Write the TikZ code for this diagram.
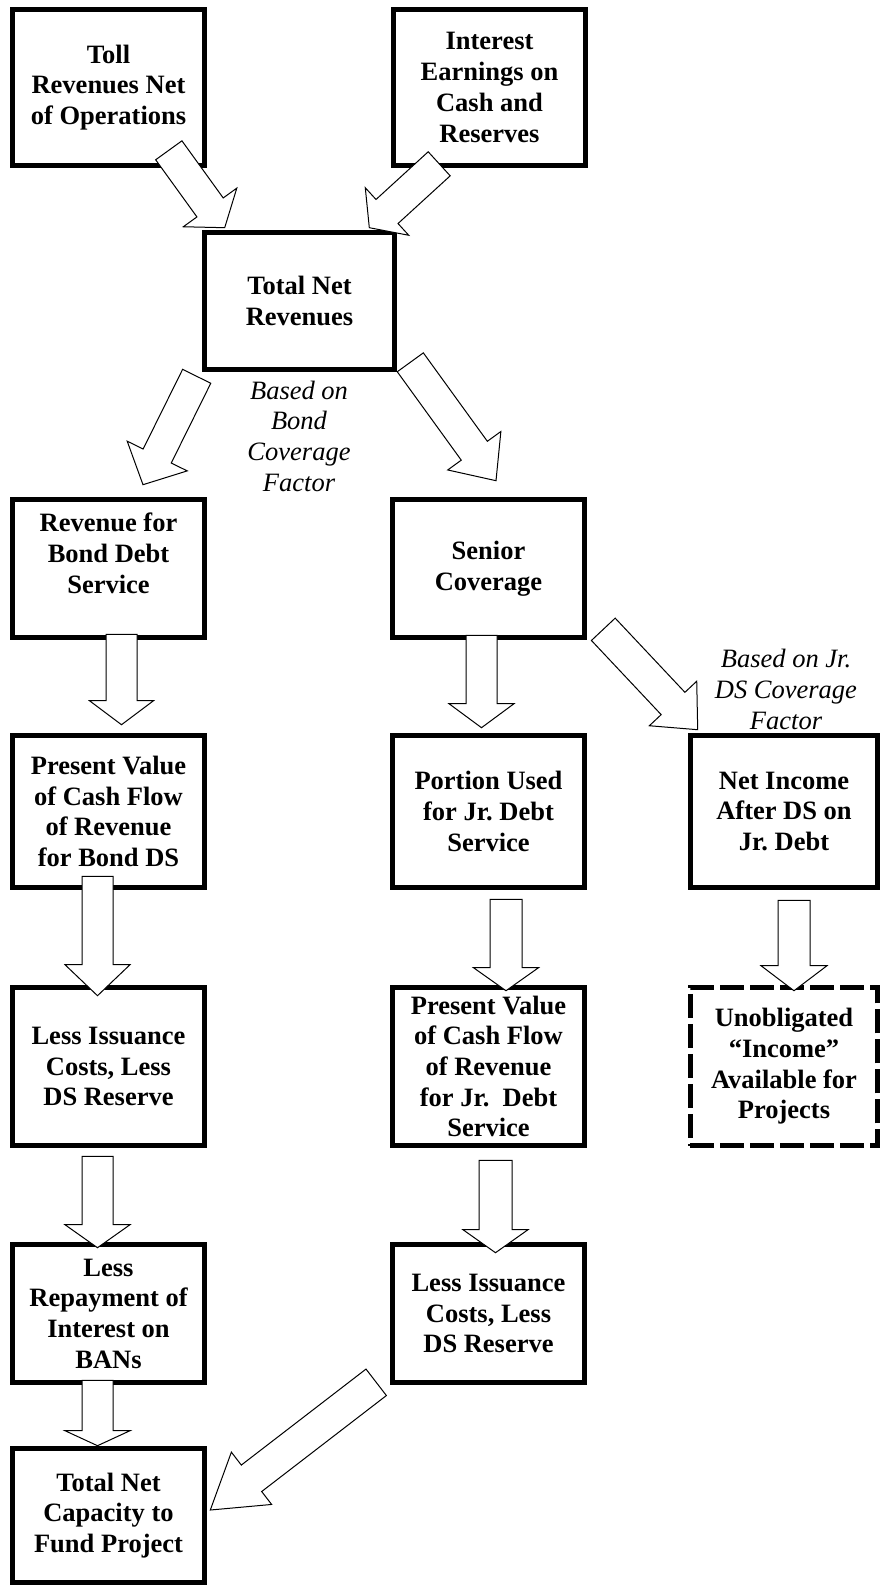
\documentclass[tikz,border=0pt]{standalone}
\usepackage{fontspec}
\setmainfont{Liberation Serif}
\usepackage{tikz}
\usetikzlibrary{calc}
% block arrow: [half shaft : half head : head length](from)+(shift)(to)+(shift);
\def\fatarrow[#1:#2:#3](#4)+(#5)(#6)+(#7);{%
	\coordinate (fs) at ($(#4)+(#5)$);
	\coordinate (ft) at ($(#6)+(#7)$);
	\coordinate (fh) at ($(ft)!#3pt!(fs)$);
	\draw[fatarr] ($(fs)!#1pt!90:(ft)$) -- ($(fh)!#1pt!90:(ft)$) -- ($(fh)!#2pt!90:(ft)$) -- (ft)
		-- ($(fh)!#2pt!-90:(ft)$) -- ($(fh)!#1pt!-90:(ft)$) -- ($(fs)!#1pt!-90:(ft)$) -- cycle;
}

\begin{document}
\begin{tikzpicture}[x=1pt, y=-1pt,
		box/.style={draw, line width=4.6pt, minimum width=192.5pt, align=center, inner sep=0pt,
			font=\bfseries\fontsize{26.5}{30.7}\selectfont\frenchspacing},
		dashbox/.style={box, dash pattern=on 24pt off 6pt},
		note/.style={align=center, inner sep=0pt, font=\itshape\fontsize{26.5}{30.7}\selectfont\frenchspacing},
		fatarr/.style={draw, fill=white, line width=1pt, line join=miter}]
			%%%%% START %%%%%
			\useasboundingbox (0, 0) rectangle (881, 1587);
			
			\node[box, minimum height=156.5pt] (toll) at (108.5, 87.5) {Toll\\Revenues Net\\of Operations};
			\node[box, minimum height=156.5pt] (intr) at (489.5, 87.5) {Interest\\Earnings on\\Cash and\\Reserves};
			
			\node[box, minimum width=190.5pt, minimum height=137.5pt] (tnr) at (299.5, 301) {Total Net\\Revenues};
			
			\node[box, minimum height=138.5pt] (rbds) at (108.5, 568.5) {Revenue for\\Bond Debt\\Service\\ \mbox{}};
			\node[box, minimum height=138.5pt] (senior) at (488.5, 568.5) {Senior\\Coverage};
			
			\node[box, minimum height=152.5pt] (pvl) at (108.5, 811.5) {Present Value\\of Cash Flow\\of Revenue\\for Bond DS};
			\node[box, minimum height=152.5pt] (portion) at (488.5, 811.5) {Portion Used\\for Jr. Debt\\Service};
			\node[box, minimum width=187.5pt, minimum height=152.5pt] (netinc) at (784, 811.5) {Net Income\\After DS on\\Jr. Debt};
			
			\node[box, minimum height=158.5pt] (lisl) at (108.5, 1066.5) {Less Issuance\\Costs, Less\\DS Reserve};
			\node[box, minimum height=158.5pt] (pvm) at (488.5, 1066.5) {Present Value\\of Cash Flow\\of Revenue\\for Jr.\ \ Debt\\Service};
			\node[dashbox, minimum width=187.5pt, minimum height=158.5pt] (unob) at (784, 1066.5) {Unobligated\\“Income”\\Available for\\Projects};
			
			\node[box, minimum height=138.5pt] (lrep) at (108.5, 1313.5) {Less\\Repayment of\\Interest on\\BANs};
			\node[box, minimum height=138.5pt] (lism) at (488.5, 1313.5) {Less Issuance\\Costs, Less\\DS Reserve};
			
			\node[box, minimum height=134.5pt] (tnc) at (108.5, 1515.5) {Total Net\\Capacity to\\Fund Project};
			
			%%%%% ARROWS %%%%%
			\fatarrow[16.2:33:25](toll.south east)+(-38.25,-17.75)(tnr.north west)+(22.75,-2.25);
			\fatarrow[16.3:32.2:24](intr.south west)+(48.25,-4.25)(tnr.north east)+(-27.75,-2.25);
			\fatarrow[15.7:33.5:32](tnr.south west)+(-5.25,4.25)(rbds.north)+(34.5,-12.25);
			\fatarrow[16.1:32.8:37](tnr.south east)+(13.25,-9.75)(senior.north)+(7.5,-16.25);
			
			\fatarrow[15.5:32:24](rbds.south)+(13,-5.75)(pvl.north)+(13,-8.25);
			\fatarrow[15.5:32.5:31](pvl.south)+(-11,-13.75)(lisl.north)+(-11,10.75);
			\fatarrow[15.5:32.5:23](lisl.south)+(-11,8.25)(lrep.north)+(-11,5.75);
			\fatarrow[15.5:32.5:15](lrep.south)+(-11,-4.75)(tnc.north)+(-11,-0.25);
			
			\fatarrow[15.5:32.5:24](senior.south)+(-7,-4.75)(portion.north)+(-7,-5.25);
			\fatarrow[16:32.5:23](portion.south)+(17.5,9.25)(pvm.north)+(17.5,5.75);
			\fatarrow[16.5:32.5:23](pvm.south)+(7,12.25)(lism.north)+(7,10.75);
			\fatarrow[16.3:32.5:36](senior.south east)+(16.25,-10.75)(netinc.north west)+(9.75,-3.25);
			\fatarrow[16:33:25](netinc.south)+(10,10.25)(unob.north)+(10,5.75);
			
			\fatarrow[16.7:33:52](lism.south west)+(-13.75,-2.75)(tnc.east)+(3.25,-5.5);
			
			%%%%% NOTES %%%%%
			\node[note] (bcf) at (299, 436) {Based on\\Bond\\Coverage\\Factor};
			\node[note] (jcf) at (786, 689.5) {Based on Jr.\\DS Coverage\\Factor};
			%%%%% END %%%%%
\end{tikzpicture}
\end{document}
